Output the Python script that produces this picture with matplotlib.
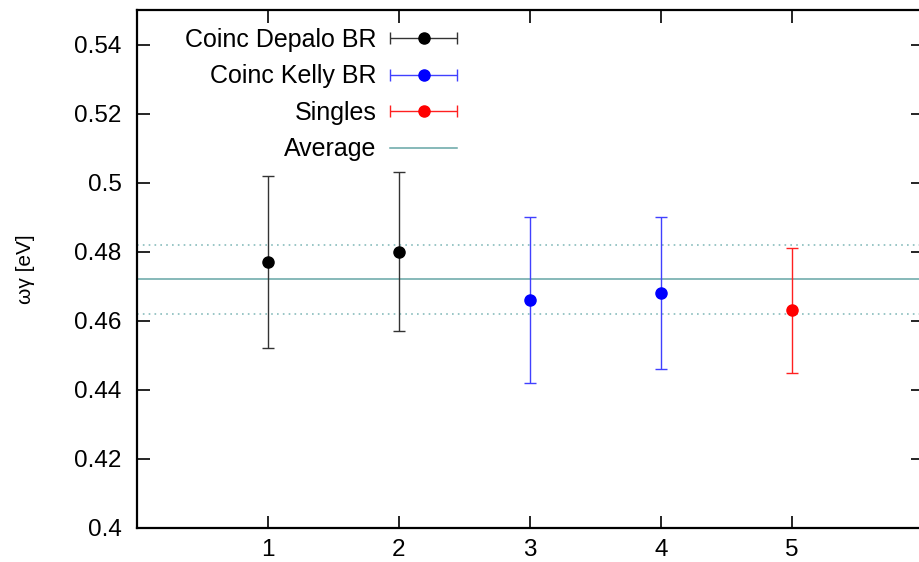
import matplotlib
matplotlib.use('Agg')
import matplotlib.pyplot as plt
from matplotlib.legend_handler import HandlerErrorbar
from matplotlib.container import ErrorbarContainer
from matplotlib.collections import LineCollection
from matplotlib.lines import Line2D

plt.rcParams['font.family'] = ['Liberation Sans', 'DejaVu Sans']

# Measurements: index, value, lower / upper error
depalo_x = [1, 2]
depalo_y = [0.477, 0.480]
depalo_lo = [0.025, 0.023]
depalo_hi = [0.025, 0.023]

kelly_x = [3, 4]
kelly_y = [0.466, 0.468]
kelly_lo = [0.024, 0.022]
kelly_hi = [0.024, 0.022]

singles_x = [5]
singles_y = [0.463]
singles_lo = [0.018]
singles_hi = [0.018]

# Weighted average and its uncertainty band
average = 0.472
average_err = 0.010

labels = ['Coinc Depalo BR', 'Coinc Kelly BR', 'Singles', 'Average']
xticks = [1, 2, 3, 4, 5]
yticks = [0.40, 0.42, 0.44, 0.46, 0.48, 0.50, 0.52, 0.54]
ytick_labels = ['0.4', '0.42', '0.44', '0.46', '0.48', '0.5', '0.52', '0.54']

fig = plt.figure(figsize=(9.2, 5.62), dpi=100)
ax = fig.add_axes([137 / 920, 34 / 562, 786 / 920, 518 / 562])

teal = '#66a6a6'
ax.axhline(average, color=teal, lw=1.1, zorder=1)
ax.axhline(average + average_err, color='#88bcbc', lw=1.2, ls=(0, (1, 2.5)), zorder=1)
ax.axhline(average - average_err, color='#88bcbc', lw=1.2, ls=(0, (1, 2.5)), zorder=1)

series = [
    (depalo_x, depalo_y, depalo_lo, depalo_hi, 'black', '#333333'),
    (kelly_x, kelly_y, kelly_lo, kelly_hi, '#0000ff', '#4040ff'),
    (singles_x, singles_y, singles_lo, singles_hi, '#ff0000', '#ff2020'),
]

handles = []
for x, y, lo, hi, c, ec in series:
    ax.errorbar(x, y, yerr=[lo, hi], fmt='o', ms=8, color=c, ecolor=ec,
                capsize=4.5, elinewidth=1.0, capthick=1.0, zorder=3)
    # legend handle with horizontal error bar, like gnuplot's key
    mk = Line2D([], [], ls='none', marker='o', ms=8, color=c)
    cap = Line2D([], [], ls='none', marker='|', ms=9, mew=1.0, color=ec)
    bar = LineCollection([], colors=ec, linewidths=1.0)
    handles.append(ErrorbarContainer((mk, (cap, cap), (bar,)),
                                     has_xerr=True, has_yerr=False))
handles.append(Line2D([], [], color=teal, lw=1.1))

leg = ax.legend(handles, labels,
                loc='upper left', bbox_to_anchor=(0.048, 0.985), markerfirst=False,
                frameon=False, fontsize=18, handlelength=2.7, handletextpad=0.55,
                labelspacing=0.5, borderaxespad=0.0,
                handler_map={ErrorbarContainer: HandlerErrorbar(xerr_size=1.35)})

ax.set_xlim(0, 6)
ax.set_ylim(0.40, 0.55)
ax.set_xticks(xticks)
ax.set_xticklabels([str(t) for t in xticks])
ax.set_yticks(yticks)
ax.set_yticklabels(ytick_labels)
ax.tick_params(direction='in', length=9, width=1.2, labelsize=17.5,
               top=True, right=True, pad=8)
ax.tick_params(axis='y', pad=11)
for s in ax.spines.values():
    s.set_linewidth(1.6)

ax.set_ylabel('ωγ [eV]', fontsize=15, labelpad=28)

fig.savefig('out.png', dpi=100)
